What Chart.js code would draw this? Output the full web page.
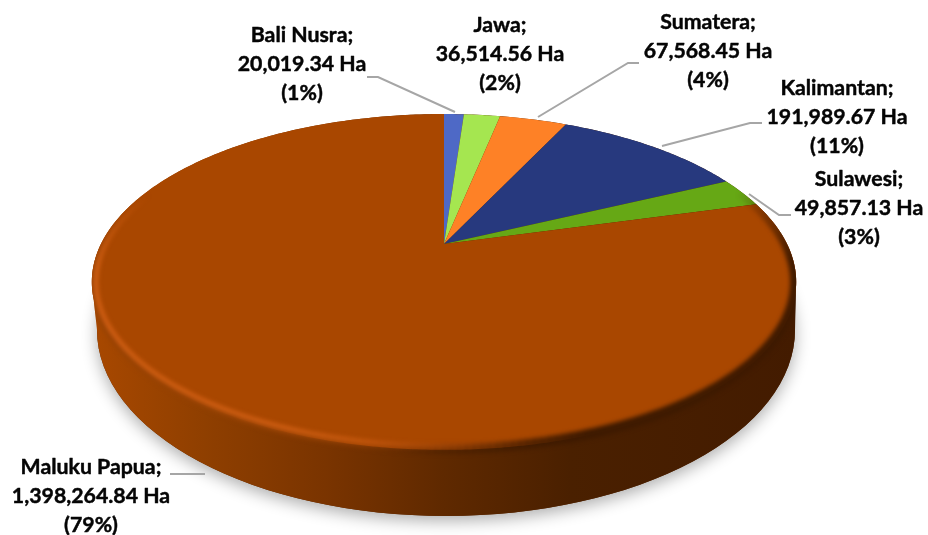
<!DOCTYPE html>
<html><head><meta charset="utf-8">
<style>html,body{margin:0;padding:0;background:#fff}canvas{display:block}</style>
<script src="https://cdn.jsdelivr.net/npm/chart.js@4"></script></head>
<body><canvas id="c" width="928" height="535"></canvas>
<script>
const regions = ["Bali Nusra","Jawa","Sumatera","Kalimantan","Sulawesi","Maluku Papua"];
const areaHa = [20019.34,36514.56,67568.45,191989.67,49857.13,1398264.84];
const sliceColors = ["#4E69C6","#A5E650","#FE8126","#27397E","#66A815","#A94700"];

// layout of the labels: centre x, centre y of first line
const labelPos = [[302,35],[500,25],[708,22],[837,88],[859,179],[91,467]];
const leaders = [
  [[367,77],[378,77],[455,112]],
  null,
  [[538,117],[628,63],[639,63]],
  [[662,146],[750,123],[762,123]],
  [[749,194],[779,215],[791,215]],
  [[170,474],[205,474]]
];
const K=-0.226, AX=1.406, BY=0.653;   // perspective of the disc relative to outer radius
const LOW={cx:446,cy:330,rx:349,ry:186};

function proj(el,a){
  const s=Math.sin(a),c=Math.cos(a),w=1+K*s,r=el.outerRadius;
  return [el.x+AX*r*c/w, el.y+BY*r*s/w];
}
function hullPath(ctx,el){
  ctx.beginPath();
  for(let d=0;d<=360;d+=1){const p=proj(el,d*Math.PI/180); d?ctx.lineTo(p[0],p[1]):ctx.moveTo(p[0],p[1]);}
  ctx.closePath();
  ctx.moveTo(LOW.cx+LOW.rx,LOW.cy);
  ctx.ellipse(LOW.cx,LOW.cy,LOW.rx,LOW.ry,0,0,Math.PI*2);
  ctx.moveTo(92,284);ctx.lineTo(796,284);ctx.lineTo(LOW.cx+LOW.rx,LOW.cy);ctx.lineTo(LOW.cx-LOW.rx,LOW.cy);ctx.closePath();
}
function lerp(a,b,t){return a+(b-a)*t;}
function ramp(stops,x){
  if(x<=stops[0][0])return stops[0][1];
  for(let i=1;i<stops.length;i++){
    if(x<=stops[i][0]){const t=(x-stops[i-1][0])/(stops[i][0]-stops[i-1][0]);return lerp(stops[i-1][1],stops[i][1],t);}
  }
  return stops[stops.length-1][1];
}
const disc3d={
  id:'disc3d',
  beforeDatasetsDraw(chart){
    const ctx=chart.ctx, arcs=chart.getDatasetMeta(0).data, el=arcs[0];
    ctx.save();
    ctx.shadowColor='rgba(0,0,0,0.32)';ctx.shadowBlur=16;ctx.shadowOffsetY=5;ctx.shadowOffsetX=0;
    ctx.fillStyle='#5a2600';
    ctx.beginPath();ctx.ellipse(LOW.cx,LOW.cy,LOW.rx,LOW.ry,0,0,Math.PI*2);ctx.fill();
    ctx.restore();
    const g=ctx.createLinearGradient(92,0,796,0);
    [[0,'#A84800'],[0.16,'#8F3F00'],[0.33,'#7A3400'],[0.5,'#5F2900'],[0.68,'#4A2000'],[1,'#431B00']]
      .forEach(s=>g.addColorStop(s[0],s[1]));
    ctx.fillStyle=g;hullPath(ctx,el);ctx.fill('nonzero');
    arcs.forEach(a=>{
      ctx.beginPath();ctx.moveTo(a.x,a.y);
      const n=Math.max(2,Math.ceil((a.endAngle-a.startAngle)/0.01));
      for(let i=0;i<=n;i++){const p=proj(a,lerp(a.startAngle,a.endAngle,i/n));ctx.lineTo(p[0],p[1]);}
      ctx.closePath();
      ctx.fillStyle=a.options.backgroundColor;ctx.fill();
    });
    const off=document.createElement('canvas');off.width=chart.width;off.height=chart.height;
    const o=off.getContext('2d');o.lineCap='butt';
    const ec={x:444,y:282};
    const seg=(d,inset,col,wid)=>{
      const p=proj(el,d*Math.PI/180),q=proj(el,(d+1.2)*Math.PI/180);
      const f=1-inset/170;
      o.beginPath();
      o.moveTo(ec.x+(p[0]-ec.x)*(1-inset/350),ec.y+(p[1]-ec.y)*f);
      o.lineTo(ec.x+(q[0]-ec.x)*(1-inset/350),ec.y+(q[1]-ec.y)*f);
      o.strokeStyle=col;o.lineWidth=wid;o.stroke();
    };
    for(let d=-22;d<205;d++){
      const dark=ramp([[-22,0],[5,0.95],[70,1],[100,0]],d);
      if(dark>0)seg(d,1,`rgba(62,26,0,${dark})`,10);
      const mid=ramp([[90,0],[115,0.8],[175,0.9],[200,0]],d);
      if(mid>0)seg(d,0,`rgba(150,66,4,${mid})`,6);
      const lite=ramp([[78,0],[112,0.95],[172,1],[200,0]],d);
      if(lite>0)seg(d,4,`rgba(210,96,20,${lite})`,4.5);
    }
    ctx.save();hullPath(ctx,el);ctx.clip('nonzero');
    ctx.filter='blur(2px)';ctx.drawImage(off,0,0);ctx.filter='none';ctx.restore();
    return false;
  },
  afterDraw(chart){
    const ctx=chart.ctx,total=areaHa.reduce((s,v)=>s+v,0);
    ctx.strokeStyle='#A6A6A6';ctx.lineWidth=2;
    leaders.forEach(l=>{ if(!l)return;
      ctx.beginPath();l.forEach((p,i)=>i?ctx.lineTo(p[0],p[1]):ctx.moveTo(p[0],p[1]));ctx.stroke();});
    ctx.fillStyle='#050505';ctx.strokeStyle='#050505';ctx.lineWidth=0.45;ctx.lineJoin='round';
    ctx.font='bold 21.3px Lato';ctx.textAlign='center';ctx.textBaseline='middle';
    const put=(t,x,y)=>{ctx.fillText(t,x,y);ctx.strokeText(t,x,y);};
    regions.forEach((r,i)=>{
      const [x,y]=labelPos[i];
      const v=areaHa[i].toLocaleString('en-US',{minimumFractionDigits:2,maximumFractionDigits:2})+' Ha';
      put(r+';',x,y);
      put(v,x,y+29);
      put('('+Math.round(areaHa[i]/total*100)+'%)',x,y+58);
    });
  }
};
new Chart(document.getElementById('c'),{
  type:'pie',
  data:{labels:regions,datasets:[{data:areaHa,backgroundColor:sliceColors,borderWidth:0}]},
  options:{responsive:false,animation:false,
    layout:{padding:{left:0,right:40,top:0,bottom:47}},
    plugins:{legend:{display:false},tooltip:{enabled:false}}},
  plugins:[disc3d]
});
</script></body></html>
